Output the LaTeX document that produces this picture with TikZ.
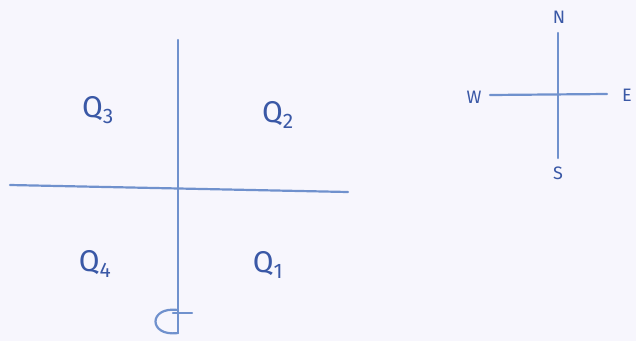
\documentclass[tikz,border=0pt]{standalone}
\usepackage{fontspec}
\setmainfont{Fira Sans}
\usepackage{xcolor}
\definecolor{Paper}{HTML}{F7F6FD}
\definecolor{Pen}{HTML}{7091CD}
\definecolor{Ink}{HTML}{3A58A6}

\begin{document}
\begin{tikzpicture}[
      x=1pt, y=-1pt,
      every node/.style={text=Ink, inner sep=0pt},
      quad/.style={font=\fontsize{30}{30}\selectfont},
      dir/.style={font=\fontsize{18}{18}\selectfont},
      axis/.style={draw=Pen, line width=2.2pt, line cap=round}
    ]
    \fill[Paper] (0,0) rectangle (636,341);
    \useasboundingbox (0,0) rectangle (636,341);

    % quadrant axes
    \coordinate (top) at (178,40);
    \coordinate (bottom) at (178,333);
    \coordinate (left) at (10,185);
    \coordinate (right) at (348,192);
    \coordinate (loopa) at (178,310);
    \coordinate (ticka) at (173,313);
    \coordinate (tickb) at (192,313);

    \draw[axis] (top) -- (bottom);
    \draw[axis] (left) -- (right);
    \draw[axis] (loopa) .. controls (148,306) and (148,337) .. (bottom);
    \draw[axis] (ticka) -- (tickb);

    \node[quad] (q3) at (98,110) {Q\textsubscript{3}};
    \node[quad] (q2) at (278,115) {Q\textsubscript{2}};
    \node[quad] (q4) at (95,264) {Q\textsubscript{4}};
    \node[quad] (q1) at (268,265) {Q\textsubscript{1}};

    % compass
    \node[dir] (n) at (559,17) {N};
    \node[dir] (s) at (558,173) {S};
    \node[dir] (w) at (474,97) {W};
    \node[dir] (e) at (627,95) {E};

    \coordinate (nend) at (558,33);
    \coordinate (send) at (558,158);
    \coordinate (wend) at (490,95);
    \coordinate (eend) at (607,94);
    \draw[axis] (nend) -- (send);
    \draw[axis] (wend) -- (eend);
  \end{tikzpicture}
\end{document}
